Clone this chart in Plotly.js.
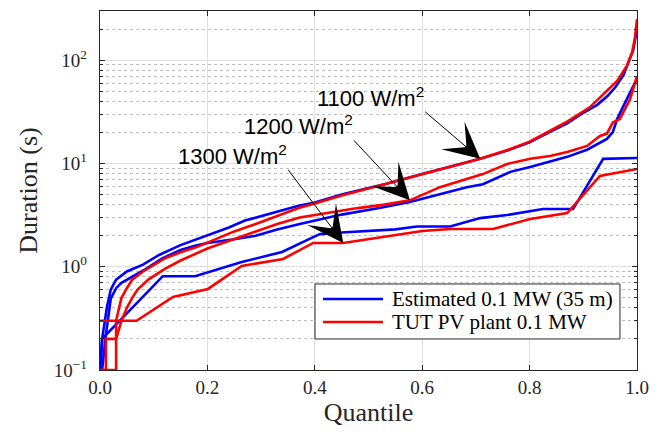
<!DOCTYPE html>
<html>
<head>
<meta charset="utf-8">
<script src="https://cdn.plot.ly/plotly-3.0.1.min.js"></script>
<style>
  html, body { margin: 0; padding: 0; background: #fff; }
  #chart { width: 667px; height: 433px; }
</style>
</head>
<body>
<div id="chart"></div>
<script>
// Duration curves: quantile vs. event duration (s), for three irradiance thresholds.
// Estimated 0.1 MW plant (35 m), blue
const qEst1100 = [0, 0.004, 0.013, 0.02, 0.03, 0.05, 0.08, 0.11, 0.15, 0.2, 0.24, 0.27, 0.33, 0.37, 0.4, 0.45, 0.5, 0.53, 0.6, 0.65, 0.708, 0.76, 0.8, 0.84, 0.87, 0.9, 0.926, 0.945, 0.96, 0.975, 0.985, 0.993, 1.0];
const dEst1100 = [0.1, 0.2, 0.41, 0.6, 0.75, 0.9, 1.05, 1.3, 1.62, 2.0, 2.4, 2.8, 3.4, 3.9, 4.2, 5.0, 5.8, 6.3, 7.9, 9.3, 11.1, 13.4, 16.0, 20.5, 24.5, 31, 37, 45, 55, 72, 98, 125, 200];

const qEst1200 = [0, 0.004, 0.01, 0.015, 0.02, 0.03, 0.04, 0.06, 0.085, 0.115, 0.15, 0.177, 0.2, 0.25, 0.29, 0.33, 0.372, 0.45, 0.52, 0.577, 0.633, 0.683, 0.713, 0.764, 0.801, 0.838, 0.87, 0.907, 0.944, 0.955, 0.963, 0.981, 1.0];
const dEst1200 = [0.1, 0.1, 0.2, 0.33, 0.49, 0.62, 0.7, 0.8, 0.95, 1.2, 1.45, 1.6, 1.7, 1.85, 2.0, 2.3, 2.6, 3.2, 3.7, 4.24, 5.06, 5.9, 6.3, 8.3, 9.25, 10.5, 11.6, 13.6, 17.3, 20.2, 27, 42, 66];

const qEst1300 = [0, 0.004, 0.117, 0.177, 0.264, 0.339, 0.40, 0.41, 0.45, 0.55, 0.59, 0.652, 0.708, 0.758, 0.825, 0.881, 0.937, 1.0];
const dEst1300 = [0.1, 0.2, 0.81, 0.81, 1.11, 1.39, 1.97, 2.07, 2.15, 2.3, 2.45, 2.45, 2.96, 3.17, 3.62, 3.62, 11.1, 11.3];

// TUT PV plant 0.1 MW, red
const qTut1100 = [0, 0.011, 0.011, 0.03, 0.03, 0.04, 0.05, 0.06, 0.08, 0.12, 0.15, 0.18, 0.21, 0.25, 0.29, 0.33, 0.37, 0.4, 0.45, 0.53, 0.6, 0.65, 0.708, 0.76, 0.8, 0.84, 0.87, 0.912, 0.937, 0.963, 0.981, 0.991, 0.996, 1.0];
const dTut1100 = [0.1, 0.1, 0.2, 0.2, 0.3, 0.5, 0.62, 0.75, 0.9, 1.2, 1.38, 1.55, 1.8, 2.2, 2.6, 3.1, 3.7, 4.1, 4.9, 6.3, 7.9, 9.3, 11.1, 13.6, 16.3, 21, 25.5, 35, 47, 63, 88, 120, 163, 250];

const qTut1200 = [0, 0.03, 0.03, 0.04, 0.05, 0.06, 0.07, 0.09, 0.12, 0.15, 0.2, 0.25, 0.29, 0.33, 0.372, 0.42, 0.48, 0.53, 0.577, 0.633, 0.683, 0.713, 0.758, 0.801, 0.838, 0.87, 0.907, 0.931, 0.944, 0.955, 0.968, 0.987, 1.0];
const dTut1200 = [0.1, 0.1, 0.2, 0.3, 0.4, 0.5, 0.6, 0.75, 0.95, 1.15, 1.5, 1.85, 2.2, 2.6, 3.0, 3.3, 3.7, 4.0, 4.4, 5.9, 7.1, 7.9, 9.9, 11.1, 11.8, 12.9, 14.8, 18.5, 19.5, 25, 27, 42, 70];

const qTut1300 = [0, 0.068, 0.136, 0.201, 0.264, 0.341, 0.397, 0.453, 0.6, 0.652, 0.732, 0.801, 0.87, 0.931, 1.0];
const dTut1300 = [0.3, 0.3, 0.51, 0.61, 1.02, 1.19, 1.7, 1.7, 2.22, 2.32, 2.32, 2.9, 3.31, 7.57, 8.85];

const seriesNames = ['Estimated 0.1 MW (35 m)', 'TUT PV plant 0.1 MW'];
const yTickVals = [0.1, 1, 10, 100];
const yTickText = ['10<sup>\u22121</sup>', '10<sup>0</sup>', '10<sup>1</sup>', '10<sup>2</sup>'];
const xTickVals = [0, 0.2, 0.4, 0.6, 0.8, 1.0];

// arrow tips sit on the curves they label
const labelText = ['1100 W/m<sup>2</sup>', '1200 W/m<sup>2</sup>', '1300 W/m<sup>2</sup>'];
const labelQ = [0.708, 0.577, 0.453];
const labelD = [11.1, 4.4, 1.7];

const BLUE = '#0000ff', RED = '#ff0000';
const serif = 'Liberation Serif, Times New Roman, serif';
const sans = 'Liberation Sans, Arial, sans-serif';

function curve(q, d, color, name) {
  return { x: q, y: d, type: 'scatter', mode: 'lines', name: name,
           line: { color: color, width: 2.6 }, showlegend: false, hoverinfo: 'skip' };
}

const traces = [
  curve(qEst1100, dEst1100, BLUE, seriesNames[0]),
  curve(qEst1200, dEst1200, BLUE, seriesNames[0]),
  curve(qEst1300, dEst1300, BLUE, seriesNames[0]),
  curve(qTut1100, dTut1100, RED, seriesNames[1]),
  curve(qTut1200, dTut1200, RED, seriesNames[1]),
  curve(qTut1300, dTut1300, RED, seriesNames[1])
];

// minor log ticks at 2..9 of each decade
const minorVals = [];
for (let e = -1; e <= 2; e++) {
  for (let m = 2; m <= 9; m++) {
    const v = m * Math.pow(10, e);
    if (v <= 300) minorVals.push(v);
  }
}

const axisColor = '#262626';
const arrowOffsets = [[-55, -47], [-56, -60], [-55, -73]];
const annotations = labelText.map((t, i) => ({
  x: labelQ[i], y: Math.log10(labelD[i]), xref: 'x', yref: 'y',
  text: t, showarrow: true, ax: arrowOffsets[i][0], ay: arrowOffsets[i][1],
  xanchor: 'right', yanchor: 'bottom',
  arrowhead: 3, arrowsize: 6, arrowwidth: 1, arrowcolor: '#000',
  font: { family: sans, size: 22, color: '#000' }, borderpad: 0
}));

// legend box drawn in paper coordinates
const lg = { x0: 0.4004, x1: 0.9683, y0: 0.0864, y1: 0.2396 };
const lgRows = [0.1978, 0.1337];
const shapes = [
  { type: 'rect', xref: 'paper', yref: 'paper', x0: lg.x0, x1: lg.x1, y0: lg.y0, y1: lg.y1,
    line: { color: axisColor, width: 1 }, fillcolor: '#ffffff', layer: 'above' }
];
[BLUE, RED].forEach((c, i) => shapes.push({
  type: 'line', xref: 'paper', yref: 'paper', x0: 0.4153, x1: 0.527, y0: lgRows[i], y1: lgRows[i],
  line: { color: c, width: 2.6 }, layer: 'above'
}));
seriesNames.forEach((n, i) => annotations.push({
  xref: 'paper', yref: 'paper', x: 0.54, y: lgRows[i], xanchor: 'left', yanchor: 'middle',
  text: n, showarrow: false, font: { family: serif, size: 21, color: '#000' }
}));

const layout = {
  width: 667, height: 433,
  margin: { l: 100, r: 30, t: 11, b: 63 },
  paper_bgcolor: '#ffffff', plot_bgcolor: '#ffffff',
  font: { family: serif, color: '#000' },
  showlegend: false,
  xaxis: {
    range: [0, 1], tickvals: xTickVals, tickformat: '.1f',
    ticks: 'inside', ticklen: 5, tickcolor: axisColor, mirror: 'ticks',
    showline: true, linecolor: axisColor, linewidth: 1.2,
    showgrid: true, gridcolor: '#dedede', gridwidth: 1, zeroline: false,
    tickfont: { family: serif, size: 19, color: '#262626' },
    title: { text: 'Quantile', font: { family: serif, size: 26, color: '#262626' }, standoff: 3 },
    automargin: false
  },
  yaxis: {
    type: 'log', range: [-1, Math.log10(300)],
    tickmode: 'array', tickvals: yTickVals, ticktext: yTickText,
    ticks: 'inside', ticklen: 5, tickcolor: axisColor, mirror: 'ticks',
    showline: true, linecolor: axisColor, linewidth: 1.2,
    showgrid: true, gridcolor: '#dedede', gridwidth: 1, zeroline: false,
    ticklabelstandoff: 8,
    minor: { tickmode: 'array', tickvals: minorVals, ticks: 'inside', ticklen: 3, tickcolor: axisColor,
             showgrid: true, gridcolor: '#bdbdbd', griddash: 'dot', gridwidth: 1 },
    tickfont: { family: serif, size: 19, color: '#262626' },
    title: { text: 'Duration (s)', font: { family: serif, size: 26, color: '#262626' }, standoff: 8 },
    automargin: false
  },
  shapes: shapes,
  annotations: annotations
};

Plotly.newPlot('chart', traces, layout, { staticPlot: true, displayModeBar: false });
</script>
</body>
</html>
